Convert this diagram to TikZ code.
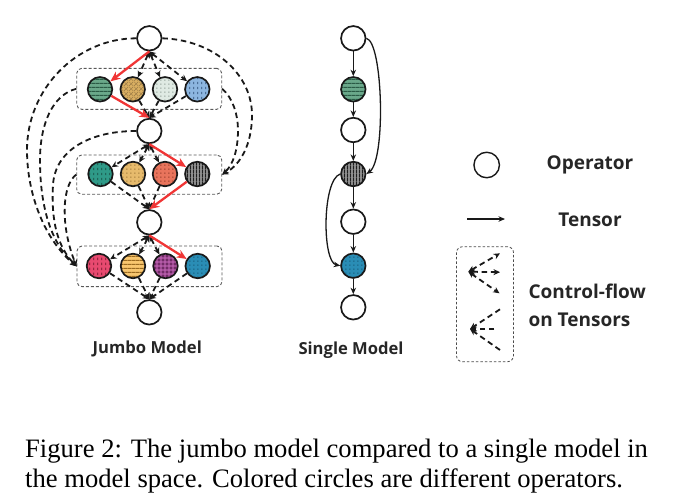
\documentclass[tikz,border=0pt]{standalone}
\usepackage{fontspec}
\setmainfont{Liberation Serif}
\newfontfamily\labfont{Open Sans}
\usetikzlibrary{arrows.meta,patterns.meta}

\definecolor{cg1}{HTML}{6AA88A}\definecolor{pg1}{HTML}{2A5A45}
\definecolor{ct1}{HTML}{D9AF62}\definecolor{pt1}{HTML}{9A7A45}
\definecolor{cm1}{HTML}{DFEAE3}\definecolor{pm1}{HTML}{7A8A80}
\definecolor{cb1}{HTML}{8DB6E0}\definecolor{pb1}{HTML}{2A4A72}
\definecolor{cteal}{HTML}{2F9A88}\definecolor{pteal}{HTML}{174A40}
\definecolor{ctan}{HTML}{E6BA6C}\definecolor{ptan}{HTML}{8A6428}
\definecolor{ccor}{HTML}{E8745C}\definecolor{pcor}{HTML}{7A2A1A}
\definecolor{cdark}{HTML}{9A9A9A}\definecolor{pdark}{HTML}{1E1E1E}
\definecolor{cpink}{HTML}{E84A70}\definecolor{ppink}{HTML}{6A1528}
\definecolor{cyel}{HTML}{F8C66E}\definecolor{pyel}{HTML}{9A6A20}
\definecolor{cpur}{HTML}{B45AA8}\definecolor{ppur}{HTML}{5A1A50}
\definecolor{cblu}{HTML}{2A8DB5}\definecolor{pblu}{HTML}{124C66}
\definecolor{redarr}{HTML}{F03535}

\pgfdeclarepattern{name=hstripes, type=uncolored,
  bottom left={\pgfpoint{0pt}{0pt}}, top right={\pgfpoint{4pt}{3.6pt}},
  tile size={\pgfpoint{4pt}{3.6pt}},
  code={\pgfsetlinewidth{1.1pt}\pgfpathmoveto{\pgfpoint{-0.5pt}{1.8pt}}\pgfpathlineto{\pgfpoint{4.5pt}{1.8pt}}\pgfusepath{stroke}}}
\pgfdeclarepattern{name=vstripes, type=uncolored,
  bottom left={\pgfpoint{0pt}{0pt}}, top right={\pgfpoint{3.4pt}{4pt}},
  tile size={\pgfpoint{3.4pt}{4pt}},
  code={\pgfsetlinewidth{1.3pt}\pgfpathmoveto{\pgfpoint{1.7pt}{-0.5pt}}\pgfpathlineto{\pgfpoint{1.7pt}{4.5pt}}\pgfusepath{stroke}}}
\pgfdeclarepattern{name=vdashes, type=uncolored,
  bottom left={\pgfpoint{0pt}{0pt}}, top right={\pgfpoint{4pt}{4.5pt}},
  tile size={\pgfpoint{4pt}{4.5pt}},
  code={\pgfsetlinewidth{0.9pt}\pgfpathmoveto{\pgfpoint{2pt}{1pt}}\pgfpathlineto{\pgfpoint{2pt}{3.5pt}}\pgfusepath{stroke}}}
\pgfdeclarepattern{name=sqdots, type=uncolored,
  bottom left={\pgfpoint{0pt}{0pt}}, top right={\pgfpoint{4.2pt}{4.2pt}},
  tile size={\pgfpoint{4.2pt}{4.2pt}},
  code={\pgfpathrectangle{\pgfpoint{1.5pt}{1.5pt}}{\pgfpoint{1.2pt}{1.2pt}}\pgfusepath{fill}}}
\pgfdeclarepattern{name=rings, type=uncolored,
  bottom left={\pgfpoint{0pt}{0pt}}, top right={\pgfpoint{4.4pt}{4.4pt}},
  tile size={\pgfpoint{4.4pt}{4.4pt}},
  code={\pgfsetlinewidth{0.6pt}\pgfpathcircle{\pgfpoint{2.2pt}{2.2pt}}{1.4pt}\pgfusepath{stroke}}}
\pgfdeclarepattern{name=xhatch, type=uncolored,
  bottom left={\pgfpoint{0pt}{0pt}}, top right={\pgfpoint{4.6pt}{4.6pt}},
  tile size={\pgfpoint{4.6pt}{4.6pt}},
  code={\pgfsetlinewidth{0.45pt}\pgfpathmoveto{\pgfpoint{0pt}{0pt}}\pgfpathlineto{\pgfpoint{4.6pt}{4.6pt}}\pgfpathmoveto{\pgfpoint{0pt}{4.6pt}}\pgfpathlineto{\pgfpoint{4.6pt}{0pt}}\pgfusepath{stroke}}}

\begin{document}
\begin{tikzpicture}[x=1pt,y=-1pt,
  opbase/.style={circle, draw=black!90, line width=1.7pt, minimum size=24.5pt, inner sep=0pt},
  op/.style={opbase, fill=white},
  pc/.style n args={3}{opbase, preaction={fill=#1}, preaction={pattern=#2, pattern color=#3}},
  cfbox/.style={draw=black!65, line width=0.9pt, dash pattern=on 3pt off 2pt, rounded corners=5pt, minimum width=145pt, inner sep=0pt},
  cf/.style={line width=1.8pt, black!90, dash pattern=on 5.5pt off 3.8pt},
  scat/.style={cf, {Stealth[length=6.5pt,width=6pt]}-{Stealth[length=6.5pt,width=6pt]}},
  gath/.style={cf, -{Stealth[length=6.5pt,width=6pt]}},
  redar/.style={line width=2.3pt, redarr, -{Stealth[length=10pt,width=8.5pt]}},
  tens/.style={line width=1.3pt, black!90, -{Stealth[length=6.5pt,width=5.5pt]}},
  lab/.style={font=\labfont\bfseries\fontsize{16.6}{19}\selectfont, text=black!85, inner sep=0pt},
  leglab/.style={font=\labfont\bfseries\fontsize{19}{22}\selectfont, text=black!85, inner sep=0pt},
  captxt/.style={font=\fontsize{26.6}{30}\selectfont, inner sep=0pt, anchor=base west}
]
\useasboundingbox (0,0) rectangle (685,501);

% ---------------- Jumbo model ----------------
\node[cfbox, minimum height=41pt] (b1) at (149.2,88.8) {};
\node[cfbox, minimum height=39.3pt] (b2) at (149.2,174.6) {};
\node[cfbox, minimum height=40.7pt] (b3) at (149.5,266.3) {};

\node[op] (t0) at (149.3,38.3) {};
\node[pc={cg1}{hstripes}{pg1}] (r11) at (100,89.3) {};
\node[pc={ct1}{xhatch}{pt1}] (r12) at (132.7,89.3) {};
\node[pc={cm1}{sqdots}{pm1}] (r13) at (165,89.3) {};
\node[pc={cb1}{vdashes}{pb1}] (r14) at (197.3,89.3) {};
\node[op] (t1) at (149.3,131) {};
\node[pc={cteal}{vdashes}{pteal}] (r21) at (100.5,174) {};
\node[pc={ctan}{sqdots}{ptan}] (r22) at (133,174) {};
\node[pc={ccor}{sqdots}{pcor}] (r23) at (165,174) {};
\node[pc={cdark}{vstripes}{pdark}] (r24) at (197.3,174) {};
\node[op] (t2) at (149.3,222.3) {};
\node[pc={cpink}{vdashes}{ppink}] (r31) at (99,266) {};
\node[pc={cyel}{hstripes}{pyel}] (r32) at (133,266) {};
\node[pc={cpur}{rings}{ppur}] (r33) at (165.5,266) {};
\node[pc={cblu}{sqdots}{pblu}] (r34) at (197.7,266) {};
\node[op] (t3) at (149.3,312.3) {};

% scatter / gather
\foreach \s/\r in {t0/r12,t0/r13,t0/r14,t1/r21,t1/r22,t1/r23,t2/r31,t2/r32,t2/r33}
  \draw[scat] (\s.south) -- (\r);
\foreach \r/\t in {r12/t1,r13/t1,r14/t1,r21/t2,r22/t2,r23/t2,r31/t3,r32/t3,r33/t3,r34/t3}
  \draw[gath] (\r) -- (\t.north);
\draw[redar] (t0.south) -- (r11);
\draw[redar] (r11) -- (t1.north);
\draw[redar] (t1.south) -- (r24);
\draw[redar] (r24) -- (t2.north);
\draw[redar] (t2.south) -- (r34);

% long control-flow curves, left
\draw[gath] (t0.west) .. controls (76.5,38.3) and (27,89) .. (27,150) .. controls (27,195) and (45,240) .. (b3.west);
\draw[gath] (b1.west) .. controls (52,95) and (40,125) .. (40,160) .. controls (40,205) and (50,242) .. (b3.west);
\draw[gath] (t1.west) .. controls (90,131) and (55,150) .. (53,185) .. controls (51,220) and (57,246) .. (b3.west);
\draw[gath] (b2.west) .. controls (62,185) and (60,225) .. (b3.west);
% right
\draw[gath] (t0.east) .. controls (215,40) and (252,75) .. (252,115) .. controls (252,145) and (240,165) .. (b2.east);
\draw[gath] (b1.east) .. controls (233,98) and (238,115) .. (238,130) .. controls (238,150) and (233,165) .. (b2.east);

\node[lab] (jl) at (147.3,349.3) {Jumbo Model};

% ---------------- Single model ----------------
\node[op] (s1) at (353.3,38.3) {};
\node[pc={cg1}{hstripes}{pg1}] (s2) at (353.3,89.3) {};
\node[op] (s3) at (353.3,130) {};
\node[pc={cdark}{vstripes}{pdark}] (s4) at (353.3,174) {};
\node[op] (s5) at (353.3,221.7) {};
\node[pc={cblu}{sqdots}{pblu}] (s6) at (353.3,265.7) {};
\node[op] (s7) at (353.3,307.3) {};
\foreach \a/\b in {s1/s2,s2/s3,s3/s4,s4/s5,s5/s6,s6/s7}
  \draw[tens] (\a) -- (\b);
\draw[tens] (s1.east) .. controls (383,42) and (386,160) .. (s4.east);
\draw[tens] (s4.west) .. controls (322,180) and (322,262) .. (s6.west);
\node[lab] (sl) at (351,350) {Single Model};

% ---------------- Legend ----------------
\node[op, minimum size=25.5pt, line width=1.4pt] (lop) at (486.7,165) {};
\node[leglab] (lopt) at (590,165) {Operator};
\coordinate (ta) at (467.3,219);
\coordinate (tb) at (505,219);
\draw[tens] (ta) -- (tb);
\node[leglab] (ltt) at (590,220) {Tensor};
\node[draw=black!70, line width=0.8pt, dash pattern=on 2.5pt off 2pt, rounded corners=6pt,
      minimum width=57pt, minimum height=115pt, inner sep=0pt] (lbox) at (485,304.2) {};
\coordinate (so) at (468.3,271.7);
\coordinate (se1) at (500,253.3);
\coordinate (se2) at (500,272.2);
\coordinate (se3) at (499.5,293.3);
\foreach \e in {se1,se2,se3} \draw[scat] (so) -- (\e);
\coordinate (go) at (470,329);
\coordinate (ge1) at (500,309.3);
\coordinate (ge2) at (494.3,329);
\coordinate (ge3) at (500,350);
\foreach \e in {ge1,ge2,ge3} \draw[gath] (\e) -- (go);
\node[leglab, anchor=west] (lcf) at (528.3,291.7) {Control-flow};
\node[leglab, anchor=west] (lot) at (528.3,320) {on Tensors};

% ---------------- Caption ----------------
\node[captxt] (c1) at (25,457) {Figure 2: The jumbo model compared to a single model in};
\node[captxt] (c2) at (25,487) {the model space. Colored circles are different operators.};
\end{tikzpicture}
\end{document}
